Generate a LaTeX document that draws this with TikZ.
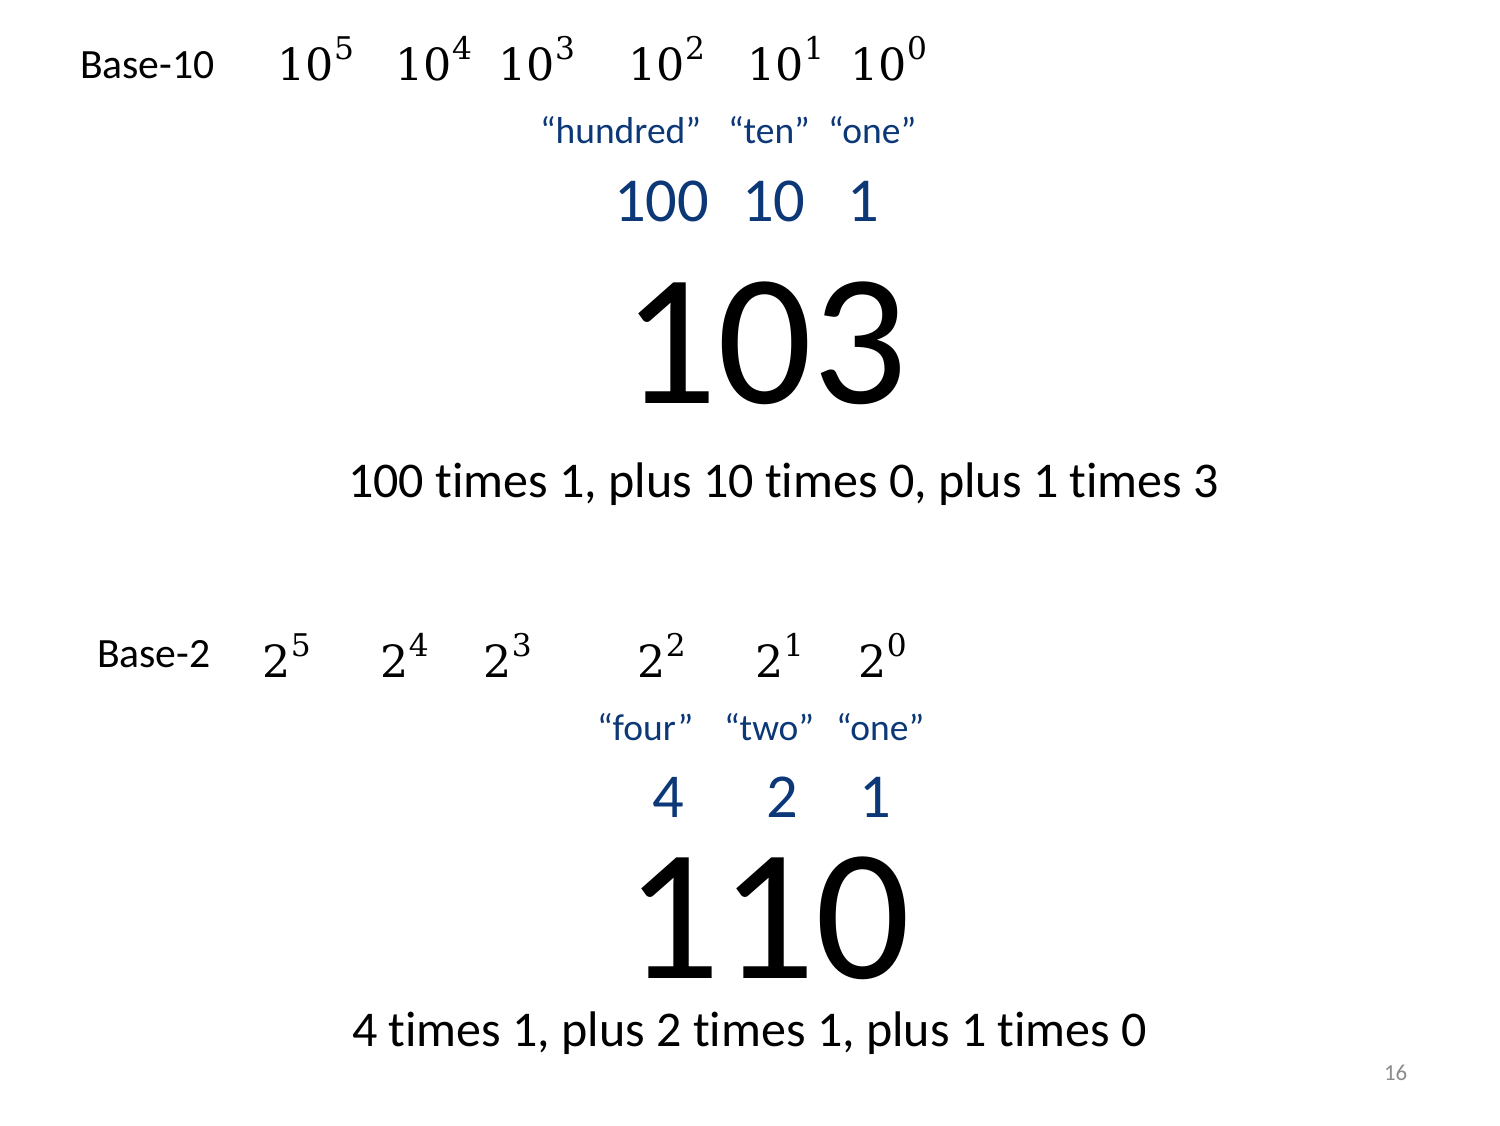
\documentclass[tikz,border=0pt]{standalone}
\usepackage{fontspec}
\setmainfont{Carlito}[RawFeature=-liga]
\newfontfamily\pw{DejaVu Serif}
\definecolor{navy}{RGB}{12,56,120}
\definecolor{pgray}{RGB}{140,140,140}
\begin{document}
\begin{tikzpicture}[x=0.48pt,y=-0.48pt,
  t/.style={anchor=base west,inner sep=0pt,outer sep=0pt},
  lab/.style={t,font=\fontsize{20}{24}\selectfont},
  pow/.style={t,font=\pw\fontsize{21.3}{26}\selectfont},
  qt/.style={t,text=navy,font=\fontsize{18}{22}\selectfont},
  val/.style={t,text=navy,font=\fontsize{30}{36}\selectfont},
  big/.style={t,font=\fontsize{90}{100}\selectfont},
  sent/.style={t,font=\fontsize{24}{29}\selectfont}]
\newcommand{\pp}[2]{#1\kern0.3pt\raisebox{10pt}{\fontsize{15}{18}\selectfont #2}}
\fill[white] (0,0) rectangle (1500,1125);
% Base-10
\node[lab] (b10) at (80,78) {Base-10};
\node[pow] (p5) at (277,80) {\pp{10}{5}};
\node[pow] (p4) at (395,80) {\pp{10}{4}};
\node[pow] (p3) at (498,80) {\pp{10}{3}};
\node[pow] (p2) at (628,80) {\pp{10}{2}};
\node[pow] (p1) at (747,80) {\pp{10}{1}};
\node[pow] (p0) at (850,80) {\pp{10}{0}};
\node[qt] (qh) at (540,143) {“hundred”};
\node[qt] (qten) at (728,143) {“ten”};
\node[qt] (qone) at (828,143) {“one”};
\node[val] (v100) at (614,221) {100};
\node[val] (v10) at (742,221) {10};
\node[val] (v1) at (847,221) {1};
\node[big] (n103) at (622,403) {103};
\node[sent] (s1) at (348,497) {100 times 1, plus 10 times 0, plus 1 times 3};
% Base-2
\node[lab] (b2) at (97,667) {Base-2};
\node[pow] (q5) at (262,677) {\pp{2}{5}};
\node[pow] (q4) at (380,677) {\pp{2}{4}};
\node[pow] (q3) at (483,677) {\pp{2}{3}};
\node[pow] (q2) at (637,677) {\pp{2}{2}};
\node[pow] (q1) at (755,677) {\pp{2}{1}};
\node[pow] (q0) at (858,677) {\pp{2}{0}};
\node[qt] (qf) at (597,740) {“four”};
\node[qt] (qtw) at (724,740) {“two”};
\node[qt] (qo) at (836,740) {“one”};
\node[val] (w4) at (652,817) {4};
\node[val] (w2) at (766,817) {2};
\node[val] (w1) at (859,817) {1};
\node[big] (n110) at (625,978) {110};
\node[sent] (s2) at (352,1046) {4 times 1, plus 2 times 1, plus 1 times 0};
\node[t,text=pgray,font=\fontsize{11}{13}\selectfont] (pg) at (1384,1080) {16};
\end{tikzpicture}
\end{document}
